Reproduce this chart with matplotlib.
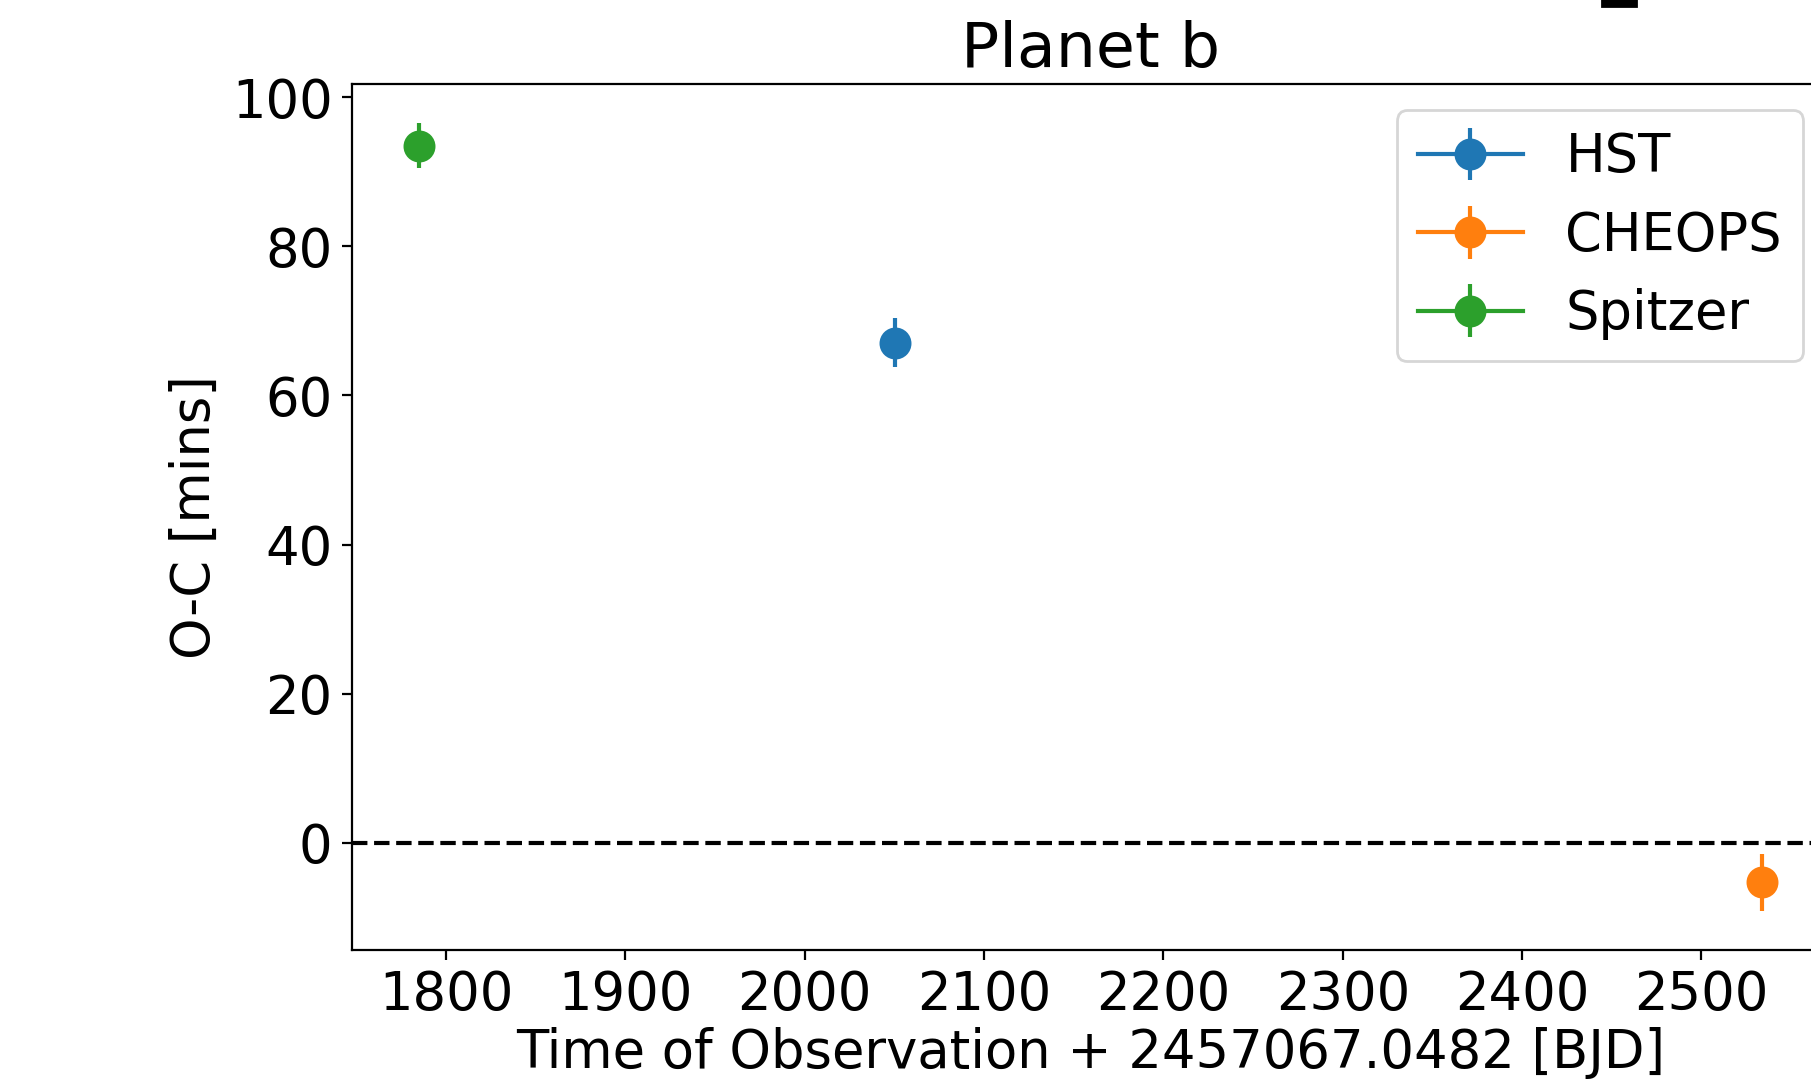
import matplotlib
matplotlib.use("Agg")
import matplotlib.pyplot as plt
from matplotlib.patches import Rectangle
from matplotlib.ticker import MultipleLocator

plt.rcParams['font.size'] = 19

# O-C transit timing data, Planet b
instruments = ['HST', 'CHEOPS', 'Spitzer']
colors = ['#1f77b4', '#ff7f0e', '#2ca02c']
epochs = [[2050.6], [2534.0], [1785.0]]
oc = [[67.1], [-5.3], [93.5]]
oc_err = [[3.3], [3.8], [3.0]]

W, H = 1811, 1079
fig = plt.figure(figsize=(W / 200, H / 200), dpi=200, facecolor='white')
ax = fig.add_axes([352 / W, 129 / H, 0.8159, 0.8026])

for name, c, t, y, e in zip(instruments, colors, epochs, oc, oc_err):
    ax.errorbar(t, y, yerr=e, marker='o', markersize=10.5, color=c, label=name)

ax.axhline(0, color='k', linestyle='--', linewidth=1.5)
ax.xaxis.set_major_locator(MultipleLocator(100))
ax.set_xlabel('Time of Observation + 2457067.0482 [BJD]', labelpad=2)
ax.set_ylabel('O-C [mins]')
ax.set_title('Planet b')
ax.legend(loc='upper right')

# small dark fragment at the top edge of the crop
fig.patches.append(Rectangle((1602 / W, 1 - 6 / H), 34 / W, 6 / H,
                             transform=fig.transFigure, color='black'))

fig.savefig('out.png', dpi=200, facecolor='white')
